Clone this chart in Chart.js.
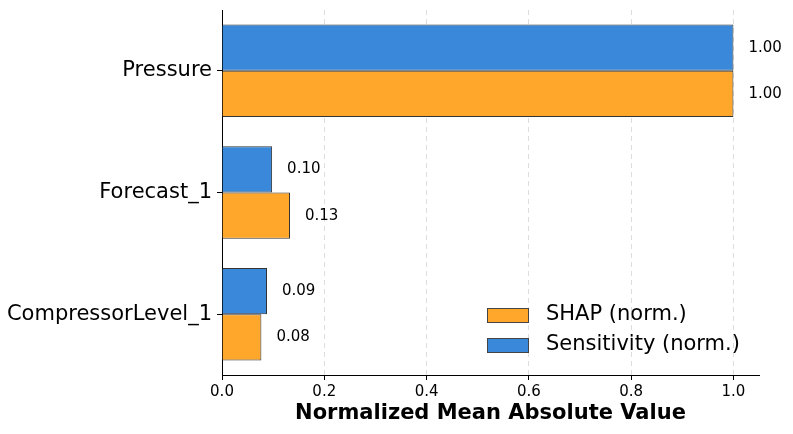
<!DOCTYPE html>
<html>
<head>
<meta charset="utf-8">
<script src="https://cdn.jsdelivr.net/npm/chart.js@4.4.0/dist/chart.umd.min.js"></script>
<style>
html,body{margin:0;padding:0;background:#fff;}
#wrap{width:793px;height:434px;position:relative;}
</style>
</head>
<body>
<div id="wrap"><canvas id="c"></canvas></div>
<script>
const categories = ["Pressure", "Forecast_1", "CompressorLevel_1"];
const sensitivityValues = [1.00, 0.098, 0.088];
const shapValues = [1.00, 0.133, 0.077];
const xTicks = [0.0, 0.2, 0.4, 0.6, 0.8, 1.0];
const FONT = "'DejaVu Sans', sans-serif";

const labelPlugin = {
  id: 'barLabels',
  afterDatasetsDraw(chart) {
    const ctx = chart.ctx;
    ctx.save();
    ctx.font = "15px " + FONT;
    ctx.fillStyle = "#000";
    ctx.textBaseline = "middle";
    ctx.textAlign = "left";
    chart.data.datasets.forEach((ds, di) => {
      const meta = chart.getDatasetMeta(di);
      meta.data.forEach((bar, i) => {
        ctx.fillText(ds.data[i].toFixed(2), bar.x + 15, bar.y);
      });
    });
    ctx.restore();
  }
};

const legendPlugin = {
  id: 'innerLegend',
  afterDraw(chart) {
    const ctx = chart.ctx;
    const ds = chart.data.datasets.slice().reverse();
    ctx.save();
    ctx.font = "21px " + FONT;
    ctx.textBaseline = "middle";
    ds.forEach((d, i) => {
      const y = 315 + i * 30;
      ctx.fillStyle = d.backgroundColor;
      ctx.fillRect(487, y - 7, 42, 15);
      ctx.strokeStyle = "#444";
      ctx.lineWidth = 1;
      ctx.strokeRect(487.5, y - 6.5, 41, 14);
      ctx.fillStyle = "#000";
      ctx.fillText(d.label, 546, y);
    });
    ctx.restore();
  }
};

new Chart(document.getElementById('c'), {
  type: 'bar',
  data: {
    labels: categories,
    datasets: [
      {
        label: "Sensitivity (norm.)",
        data: sensitivityValues,
        backgroundColor: "#3a88d9",
        borderColor: "#333",
        borderWidth: 1
      },
      {
        label: "SHAP (norm.)",
        data: shapValues,
        backgroundColor: "#ffa72a",
        borderColor: "#333",
        borderWidth: 1
      }
    ]
  },
  options: {
    indexAxis: 'y',
    responsive: true,
    maintainAspectRatio: false,
    animation: false,
    devicePixelRatio: 1,
    layout: { padding: { top: 10, right: 34, left: 0, bottom: 0 } },
    datasets: { bar: { categoryPercentage: 0.76, barPercentage: 1.0 } },
    plugins: {
      legend: { display: false },
      tooltip: { enabled: false }
    },
    scales: {
      x: {
        min: 0,
        max: 1.05,
        afterBuildTicks(scale) {
          scale.ticks = xTicks.map(v => ({ value: v }));
        },
        afterFit(scale) { scale.height = 59; },
        ticks: {
          font: { family: FONT, size: 15 },
          color: "#000",
          padding: 3,
          callback: (v) => Number(v).toFixed(1)
        },
        grid: {
          display: true,
          drawOnChartArea: true,
          color: "#dddddd",
          tickColor: "#000",
          tickLength: 5,
          lineWidth: 1
        },
        border: { display: true, color: "#000", width: 1, dash: [5, 4] },
        title: {
          display: true,
          text: "Normalized Mean Absolute Value",
          font: { family: FONT, size: 21, weight: 'bold' },
          color: "#000",
          padding: { top: 0, bottom: 8 }
        }
      },
      y: {
        afterFit(scale) { scale.width = 222; scale.paddingTop = 0; scale.paddingBottom = 0; },
        ticks: {
          font: { family: FONT, size: 21 },
          color: "#000",
          padding: 5
        },
        grid: {
          display: true,
          offset: false,
          drawOnChartArea: false,
          tickColor: "#000",
          tickLength: 5
        },
        border: { display: true, color: "#000", width: 1 }
      }
    }
  },
  plugins: [labelPlugin, legendPlugin]
});
</script>
</body>
</html>
